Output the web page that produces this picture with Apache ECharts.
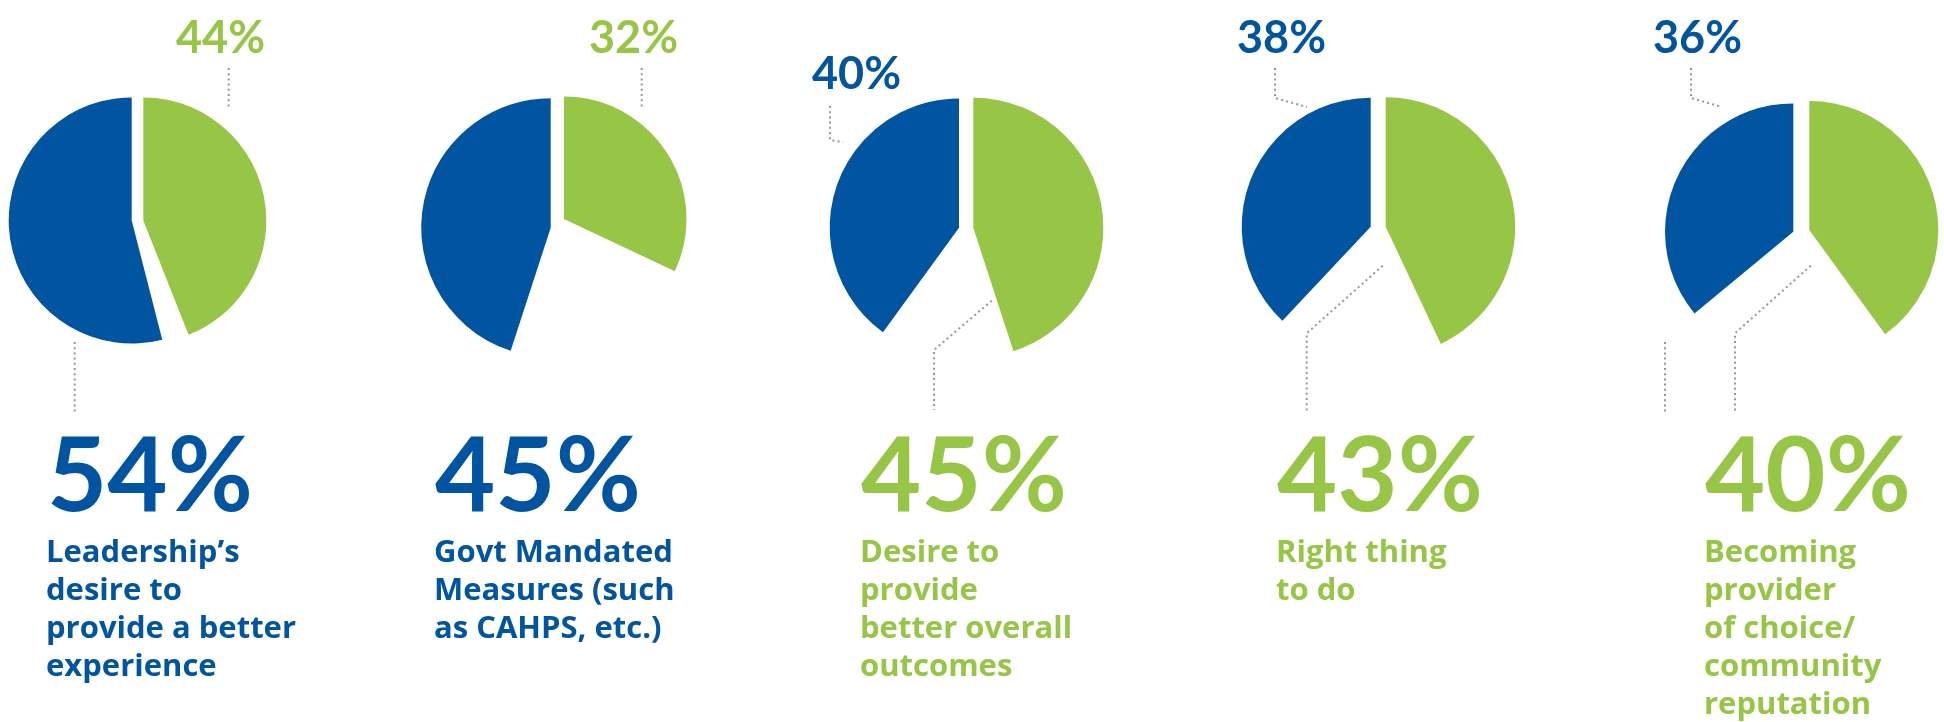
<!DOCTYPE html>
<html>
<head>
<meta charset="utf-8">
<title>Drivers of patient experience initiatives</title>
<script src="https://cdn.jsdelivr.net/npm/echarts@6/dist/echarts.min.js"></script>
<style>
  html, body { margin: 0; padding: 0; background: #ffffff; }
  #chart { width: 1944px; height: 722px; }
</style>
</head>
<body>
<div id="chart"></div>
<script>
// Reasons for investing in patient experience, one pie per reason
const reasons = [
  "Leadership’s\ndesire to\nprovide a better\nexperience",
  "Govt Mandated\nMeasures (such\nas CAHPS, etc.)",
  "Desire to\nprovide\nbetter overall\noutcomes",
  "Right thing\nto do",
  "Becoming\nprovider\nof choice/\ncommunity\nreputation"
];
// Share of respondents (%) in the blue and green slices of each pie
const blueShare = [54, 45, 40, 38, 36];
const greenShare = [44, 32, 45, 43, 40];
// Which slice's value is featured as the large headline number
const featured = ["blue", "blue", "green", "green", "green"];

const BLUE = "#0054a0";
const GREEN = "#97c545";
const DOT = "#969696";
const NUM_FONT = "Lato, 'Open Sans', sans-serif";
const TEXT_FONT = "'Open Sans', Lato, sans-serif";

// Placement of each pie slice, the headline block and its callouts
const layout = [
  { blue: { c: [131.7, 220.5], r: 123 }, green: { c: [143.3, 220.5], r: 123 },
    colX: 46, top: { x: 176, base: 54 },
    leaders: [[[228.7, 68], [228.7, 108]], [[74.7, 342], [74.7, 414]]] },
  { blue: { c: [550.7, 227.7], r: 129.5 }, green: { c: [564, 219], r: 122.5 },
    colX: 434, top: { x: 589, base: 54 },
    leaders: [[[641.7, 68], [641.7, 108]]] },
  { blue: { c: [959, 227.7], r: 129.3 }, green: { c: [973.3, 227.7], r: 130 },
    colX: 860, top: { x: 812, base: 90 },
    leaders: [[[830, 106], [830, 140], [843, 142]], [[991.7, 300.7], [934, 350], [934, 410]]] },
  { blue: { c: [1370.7, 226.7], r: 129 }, green: { c: [1385.7, 226.7], r: 129.5 },
    colX: 1276, top: { x: 1237, base: 54 },
    leaders: [[[1275, 68], [1275, 98], [1307, 107]], [[1382.7, 265.7], [1306.7, 333.3], [1306.7, 412]]] },
  { blue: { c: [1793.3, 231.7], r: 128.3 }, green: { c: [1809.3, 230], r: 129 },
    colX: 1704, top: { x: 1653, base: 54 },
    leaders: [[[1691, 68], [1691, 98], [1722, 107]], [[1810.7, 265.7], [1735, 333.3], [1735, 412]], [[1665, 342], [1665, 414]]] }
];

// distance (in em) from the "middle" text baseline down to the alphabetic baseline
const MID_NUM = 0.34;

const series = [];
const graphics = [];

reasons.forEach(function (reason, i) {
  const L = layout[i];
  const g = greenShare[i];
  const b = blueShare[i];
  const common = {
    type: "pie",
    startAngle: 90,
    clockwise: true,
    silent: true,
    animation: false,
    label: { show: false },
    labelLine: { show: false },
    emphasis: { disabled: true },
    itemStyle: { borderWidth: 0 }
  };
  // green slice runs clockwise from 12 o'clock
  series.push(Object.assign({}, common, {
    name: "green-" + i,
    center: L.green.c,
    radius: L.green.r,
    data: [
      { value: g, itemStyle: { color: GREEN } },
      { value: 100 - g, itemStyle: { color: "rgba(0,0,0,0)" } }
    ]
  }));
  // blue slice ends at 12 o'clock
  series.push(Object.assign({}, common, {
    name: "blue-" + i,
    center: L.blue.c,
    radius: L.blue.r,
    data: [
      { value: 100 - b, itemStyle: { color: "rgba(0,0,0,0)" } },
      { value: b, itemStyle: { color: BLUE } }
    ]
  }));

  const bigIsBlue = featured[i] === "blue";
  const bigVal = bigIsBlue ? b : g;
  const smallVal = bigIsBlue ? g : b;
  const bigColor = bigIsBlue ? BLUE : GREEN;
  const smallColor = bigIsBlue ? GREEN : BLUE;

  // small value above the pie
  graphics.push({
    type: "text",
    silent: true,
    style: {
      text: smallVal + "%",
      x: L.top.x,
      y: L.top.base - MID_NUM * 45,
      font: "bold 45px " + NUM_FONT,
      fill: smallColor,
      align: "left",
      verticalAlign: "middle"
    }
  });
  // headline value
  graphics.push({
    type: "text",
    silent: true,
    style: {
      text: bigVal + "%",
      x: L.colX + 1,
      y: 513 - MID_NUM * 104,
      font: "bold 104px " + NUM_FONT,
      fill: bigColor,
      align: "left",
      verticalAlign: "middle"
    }
  });
  // reason text
  graphics.push({
    type: "text",
    silent: true,
    style: {
      text: reason,
      x: L.colX,
      y: 534,
      font: "bold 31px " + TEXT_FONT,
      lineHeight: 38,
      fill: bigColor,
      align: "left",
      verticalAlign: "top"
    }
  });
  // dotted callout lines
  L.leaders.forEach(function (pts) {
    graphics.push({
      type: "polyline",
      silent: true,
      shape: { points: pts },
      style: { stroke: DOT, lineWidth: 2, lineDash: [2, 3.2], fill: null }
    });
  });
});

const chart = echarts.init(document.getElementById("chart"), null, { renderer: "canvas" });
chart.setOption({
  backgroundColor: "#ffffff",
  animation: false,
  series: series,
  graphic: { elements: graphics }
});
</script>
</body>
</html>
